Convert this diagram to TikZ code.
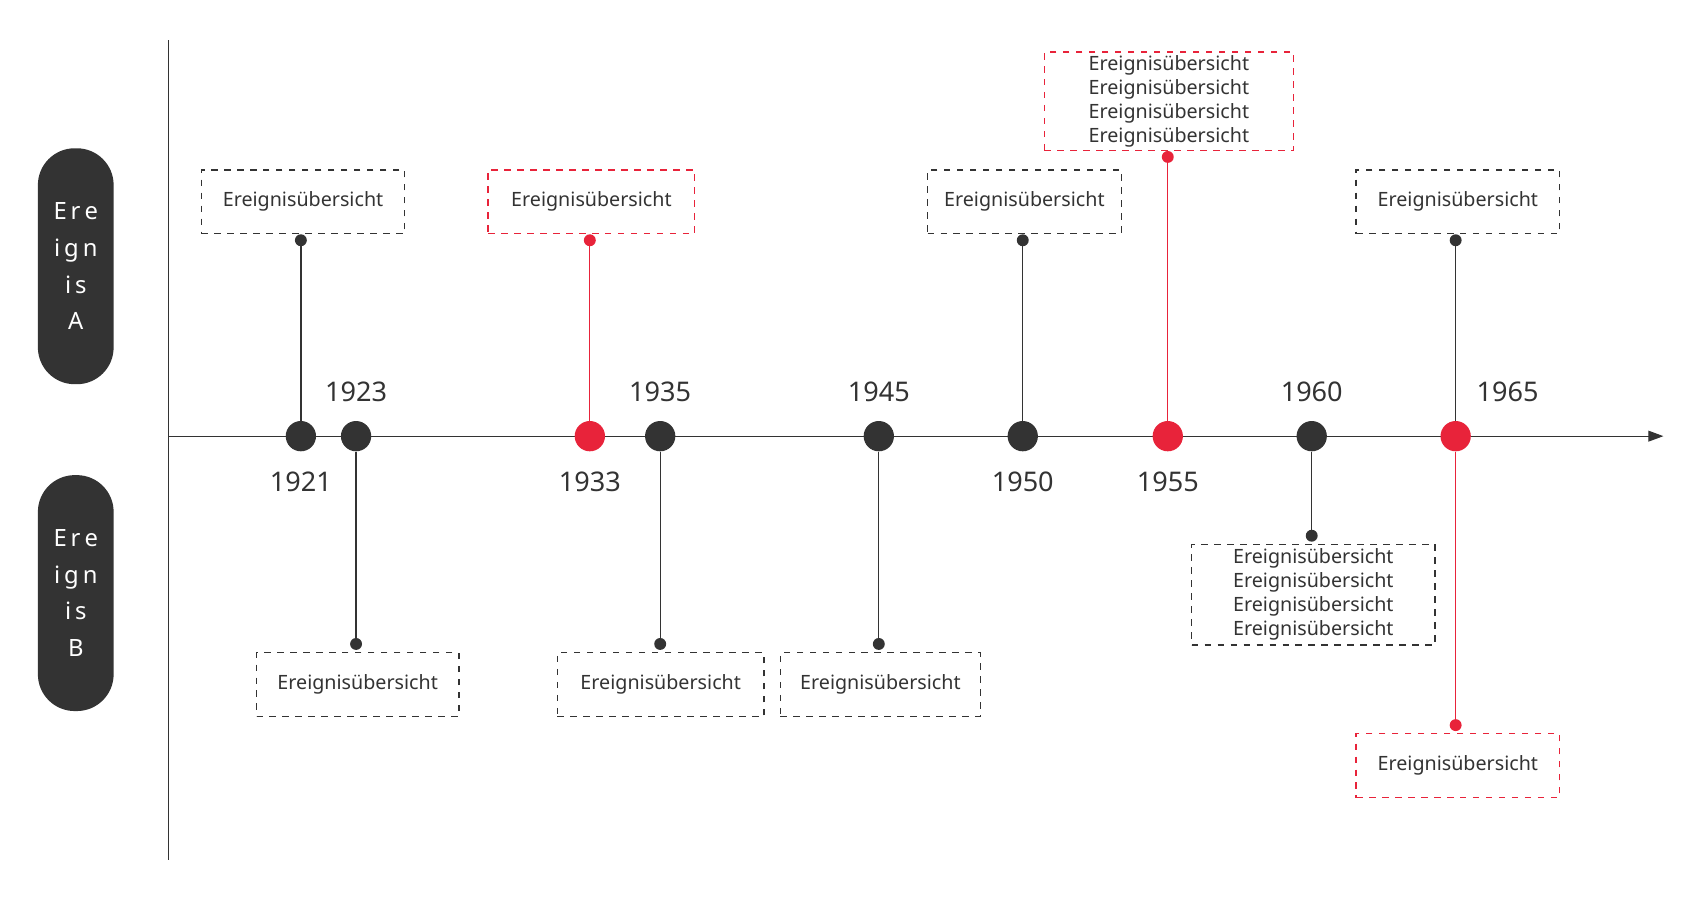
\documentclass[tikz,border=0pt]{standalone}
\usepackage{fontspec}
\setmainfont{Noto Sans}
\usetikzlibrary{arrows.meta}
\definecolor{dk}{HTML}{333333}
\definecolor{rd}{HTML}{E8233A}
\tikzset{
 ev/.style={draw=dk,dashed,line width=0.6pt,minimum height=29.5pt,inner sep=0pt,font=\fontsize{9.1}{11.1}\selectfont,text=dk,align=center},
 evr/.style={ev,draw=rd},
 big/.style={circle,fill=dk,minimum size=14pt,inner sep=0pt},
 bigr/.style={big,fill=rd},
 sm/.style={circle,fill=dk,minimum size=5.5pt,inner sep=0pt},
 smr/.style={sm,fill=rd},
 yr/.style={font=\fontsize{12.5}{14}\selectfont,text=dk},
 pill/.style={fill=dk,rounded corners=17pt,minimum width=35pt,minimum height=109pt,text=white,align=center,font=\fontsize{11}{17}\selectfont},
 ln/.style={dk,line width=0.6pt},
 lnr/.style={rd,line width=0.6pt}
}
\begin{document}
\begin{tikzpicture}[x=0.5pt,y=-0.5pt]
\useasboundingbox (0,0) rectangle (1568,829);
\node[pill] (pa) at (70,246) {E\,r\,e\\i\,g\,n\\i\,s\\A};
\node[pill] (pb) at (70,548) {E\,r\,e\\i\,g\,n\\i\,s\\B};
\coordinate (vt) at (156,37); \coordinate (vb) at (156,795);
\draw[ln] (vt) -- (vb);
\coordinate (hs) at (156,403); \coordinate (he) at (1537,403);
\draw[ln,-{Triangle[length=7pt,width=5pt]}] (hs) -- (he);
% dots
\node[big] (d1) at (278,403) {};
\node[big] (d2) at (329,403) {};
\node[bigr] (d3) at (545,403) {};
\node[big] (d4) at (610,403) {};
\node[big] (d5) at (812,403) {};
\node[big] (d6) at (945,403) {};
\node[bigr] (d7) at (1079,403) {};
\node[big] (d8) at (1212,403) {};
\node[bigr] (d9) at (1345,403) {};
% years
\node[yr] (y1) at (278,445) {1921};
\node[yr] (y2) at (329,362) {1923};
\node[yr] (y3) at (545,445) {1933};
\node[yr] (y4) at (610,362) {1935};
\node[yr] (y5) at (812,362) {1945};
\node[yr] (y6) at (945,445) {1950};
\node[yr] (y7) at (1079,445) {1955};
\node[yr] (y8) at (1212,362) {1960};
\node[yr] (y9) at (1393,362) {1965};
% top boxes
\node[ev,minimum width=94pt] (b1) at (280,186.5) {Ereignisübersicht};
\node[evr,minimum width=95.5pt] (b3) at (546.5,186.5) {Ereignisübersicht};
\node[ev,minimum width=89.5pt] (b6) at (946.5,186.5) {Ereignisübersicht};
\node[evr,minimum width=115pt,minimum height=45.5pt] (b7) at (1080,93.5) {Ereignisübersicht\\Ereignisübersicht\\Ereignisübersicht\\Ereignisübersicht};
\node[ev,minimum width=94pt] (b9) at (1347,186.5) {Ereignisübersicht};
% bottom boxes
\node[ev,minimum width=93.5pt] (b2) at (330.5,632.5) {Ereignisübersicht};
\node[ev,minimum width=95.5pt] (b4) at (610.5,632.5) {Ereignisübersicht};
\node[ev,minimum width=92.5pt] (b5) at (813.5,632.5) {Ereignisübersicht};
\node[ev,minimum width=112.5pt,minimum height=46.5pt] (b8) at (1213.5,549.5) {Ereignisübersicht\\Ereignisübersicht\\Ereignisübersicht\\Ereignisübersicht};
\node[evr,minimum width=94pt] (b10) at (1347,707.5) {Ereignisübersicht};
% small dots
\node[sm] (s1) at (278,222) {};
\node[smr] (s3) at (545,222) {};
\node[sm] (s6) at (945,222) {};
\node[smr] (s7) at (1079,145) {};
\node[sm] (s9) at (1345,222) {};
\node[sm] (s2) at (329,595) {};
\node[sm] (s4) at (610,595) {};
\node[sm] (s5) at (812,595) {};
\node[sm] (s8) at (1212,495) {};
\node[smr] (s10) at (1345,670) {};
\draw[ln] (s1.center) -- (d1); \draw[lnr] (s3.center) -- (d3);
\draw[ln] (s6.center) -- (d6); \draw[lnr] (s7.center) -- (d7);
\draw[ln] (s9.center) -- (d9);
\draw[ln] (d2) -- (s2.center); \draw[ln] (d4) -- (s4.center);
\draw[ln] (d5) -- (s5.center); \draw[ln] (d8) -- (s8.center);
\draw[lnr] (d9) -- (s10.center);
\end{tikzpicture}
\end{document}
